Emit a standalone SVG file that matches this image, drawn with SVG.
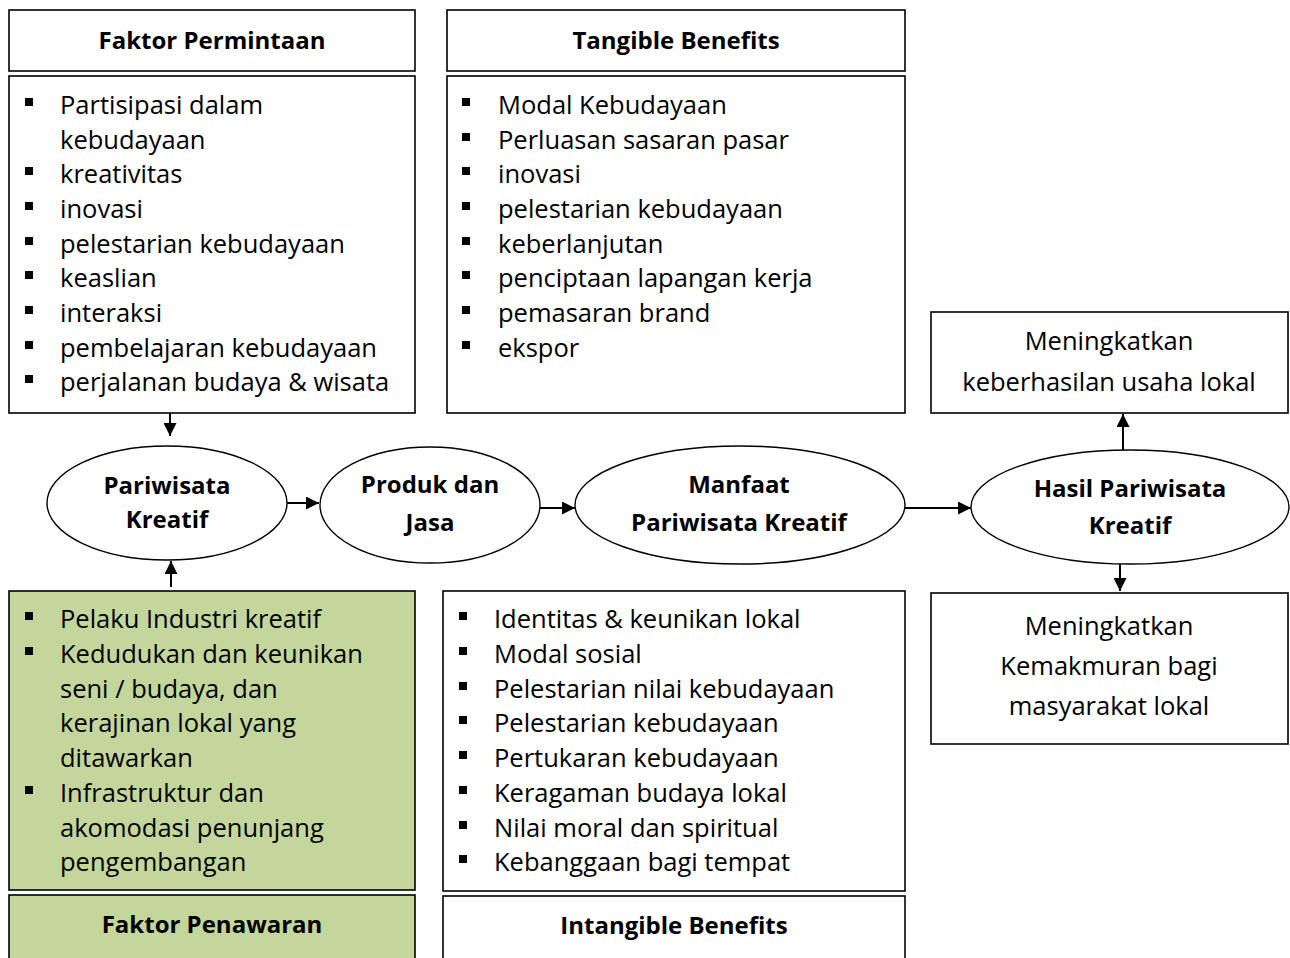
<svg xmlns="http://www.w3.org/2000/svg" width="1290" height="958" viewBox="0 0 1290 958">
<defs>
<marker id="arr" viewBox="0 0 12 12" refX="12" refY="6" markerWidth="13" markerHeight="13" markerUnits="userSpaceOnUse" orient="auto">
<path d="M0,0 L12,6 L0,12 Z" fill="#000"/>
</marker>
</defs>
<style>
.box{fill:#fff;stroke:#000;stroke-width:1.6}
.green{fill:#c3d69b;stroke:#000;stroke-width:1.6}
.ell{fill:#fff;stroke:#000;stroke-width:1.4}
text{font-family:"Open Sans","Liberation Sans",sans-serif;fill:#000}
.t{font-size:25.5px}
.b{font-size:24px;font-weight:bold;text-anchor:middle}
.c{font-size:25.5px;text-anchor:middle}
.bul{fill:#000}
.con{stroke:#000;stroke-width:2;fill:none;marker-end:url(#arr)}
</style>
<rect width="1290" height="958" fill="#fff"/>

<g id="faktor-permintaan">
<rect class="box" x="9" y="10" width="406" height="61"/>
<text class="b" x="212" y="49">Faktor Permintaan</text>
<rect class="box" x="9" y="76" width="406" height="337"/>
<g class="bul"><rect x="25" y="98" width="8" height="8"/><rect x="25" y="167" width="8" height="8"/><rect x="25" y="202" width="8" height="8"/><rect x="25" y="237" width="8" height="8"/><rect x="25" y="271" width="8" height="8"/><rect x="25" y="306" width="8" height="8"/><rect x="25" y="341" width="8" height="8"/><rect x="25" y="375" width="8" height="8"/></g>
<text class="t" x="60" y="114">Partisipasi dalam</text>
<text class="t" x="60" y="149">kebudayaan</text>
<text class="t" x="60" y="183">kreativitas</text>
<text class="t" x="60" y="218">inovasi</text>
<text class="t" x="60" y="253">pelestarian kebudayaan</text>
<text class="t" x="60" y="287">keaslian</text>
<text class="t" x="60" y="322">interaksi</text>
<text class="t" x="60" y="357">pembelajaran kebudayaan</text>
<text class="t" x="60" y="391">perjalanan budaya &amp; wisata</text>
</g>

<g id="tangible-benefits">
<rect class="box" x="447" y="10" width="458" height="61"/>
<text class="b" x="676" y="49">Tangible Benefits</text>
<rect class="box" x="447" y="76" width="458" height="337"/>
<g class="bul"><rect x="462" y="98" width="8" height="8"/><rect x="462" y="133" width="8" height="8"/><rect x="462" y="167" width="8" height="8"/><rect x="462" y="202" width="8" height="8"/><rect x="462" y="237" width="8" height="8"/><rect x="462" y="271" width="8" height="8"/><rect x="462" y="306" width="8" height="8"/><rect x="462" y="341" width="8" height="8"/></g>
<text class="t" x="498" y="114">Modal Kebudayaan</text>
<text class="t" x="498" y="149">Perluasan sasaran pasar</text>
<text class="t" x="498" y="183">inovasi</text>
<text class="t" x="498" y="218">pelestarian kebudayaan</text>
<text class="t" x="498" y="253">keberlanjutan</text>
<text class="t" x="498" y="287">penciptaan lapangan kerja</text>
<text class="t" x="498" y="322">pemasaran brand</text>
<text class="t" x="498" y="357">ekspor</text>
</g>

<g id="hasil-usaha">
<rect class="box" x="931" y="312" width="357" height="101"/>
<text class="c" x="1109" y="350">Meningkatkan</text>
<text class="c" x="1109" y="391">keberhasilan usaha lokal</text>
</g>

<g id="pariwisata-kreatif">
<ellipse class="ell" cx="167" cy="503" rx="120" ry="57"/>
<text class="b" x="167" y="494">Pariwisata</text>
<text class="b" x="167" y="528">Kreatif</text>
</g>

<g id="produk-jasa">
<ellipse class="ell" cx="430" cy="505" rx="110" ry="58"/>
<text class="b" x="430" y="493">Produk dan</text>
<text class="b" x="430" y="531">Jasa</text>
</g>

<g id="manfaat">
<ellipse class="ell" cx="740" cy="505" rx="165" ry="59"/>
<text class="b" x="739" y="493">Manfaat</text>
<text class="b" x="739" y="531">Pariwisata Kreatif</text>
</g>

<g id="hasil-pariwisata">
<ellipse class="ell" cx="1130" cy="507" rx="159" ry="57"/>
<text class="b" x="1130" y="497">Hasil Pariwisata</text>
<text class="b" x="1130" y="534">Kreatif</text>
</g>

<g id="faktor-penawaran">
<rect class="green" x="9" y="591" width="406" height="299"/>
<g class="bul"><rect x="25" y="612" width="8" height="8"/><rect x="25" y="647" width="8" height="8"/><rect x="25" y="786" width="8" height="8"/></g>
<text class="t" x="60" y="628">Pelaku Industri kreatif</text>
<text class="t" x="60" y="663">Kedudukan dan keunikan</text>
<text class="t" x="60" y="698">seni / budaya, dan</text>
<text class="t" x="60" y="732">kerajinan lokal yang</text>
<text class="t" x="60" y="767">ditawarkan</text>
<text class="t" x="60" y="802">Infrastruktur dan</text>
<text class="t" x="60" y="837">akomodasi penunjang</text>
<text class="t" x="60" y="871">pengembangan</text>
<rect class="green" x="9" y="895" width="406" height="70"/>
<text class="b" x="212" y="933">Faktor Penawaran</text>
</g>

<g id="intangible-benefits">
<rect class="box" x="443" y="591" width="462" height="300"/>
<g class="bul"><rect x="459" y="612" width="8" height="8"/><rect x="459" y="647" width="8" height="8"/><rect x="459" y="682" width="8" height="8"/><rect x="459" y="716" width="8" height="8"/><rect x="459" y="751" width="8" height="8"/><rect x="459" y="786" width="8" height="8"/><rect x="459" y="821" width="8" height="8"/><rect x="459" y="855" width="8" height="8"/></g>
<text class="t" x="494" y="628">Identitas &amp; keunikan lokal</text>
<text class="t" x="494" y="663">Modal sosial</text>
<text class="t" x="494" y="698">Pelestarian nilai kebudayaan</text>
<text class="t" x="494" y="732">Pelestarian kebudayaan</text>
<text class="t" x="494" y="767">Pertukaran kebudayaan</text>
<text class="t" x="494" y="802">Keragaman budaya lokal</text>
<text class="t" x="494" y="837">Nilai moral dan spiritual</text>
<text class="t" x="494" y="871">Kebanggaan bagi tempat</text>
<rect class="box" x="443" y="896" width="462" height="70"/>
<text class="b" x="674" y="934">Intangible Benefits</text>
</g>

<g id="hasil-kemakmuran">
<rect class="box" x="931" y="593" width="357" height="151"/>
<text class="c" x="1109" y="635">Meningkatkan</text>
<text class="c" x="1109" y="675">Kemakmuran bagi</text>
<text class="c" x="1109" y="715">masyarakat lokal</text>
</g>

<g id="connectors">
<line class="con" x1="170" y1="413" x2="170" y2="436"/>
<line class="con" x1="171" y1="587" x2="171" y2="561"/>
<line class="con" x1="287" y1="503" x2="319" y2="503"/>
<line class="con" x1="540" y1="508" x2="575" y2="508"/>
<line class="con" x1="905" y1="508" x2="971" y2="508"/>
<line class="con" x1="1123" y1="450" x2="1123" y2="414"/>
<line class="con" x1="1120" y1="564" x2="1120" y2="591"/>
</g>
</svg>
